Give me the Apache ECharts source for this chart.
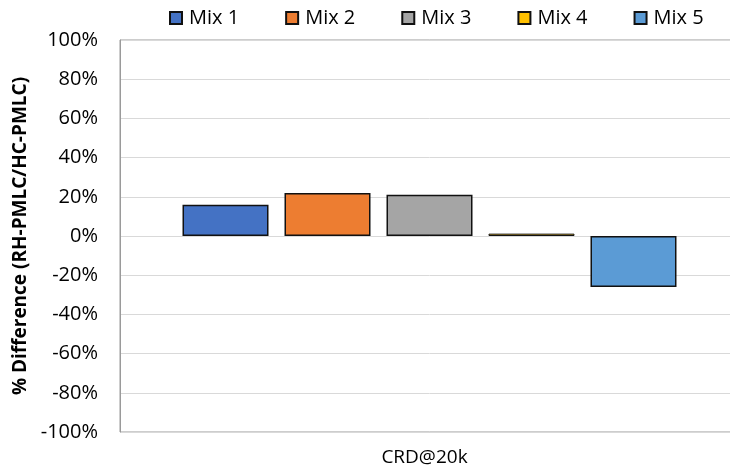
<!DOCTYPE html>
<html>
<head>
<meta charset="utf-8">
<script src="https://cdn.jsdelivr.net/npm/echarts@6/dist/echarts.min.js"></script>
<style>html,body{margin:0;padding:0;background:#fff;overflow:hidden}#c{width:739px;height:474px}</style>
</head>
<body>
<div id="c"></div>
<script>
const categories = ["CRD@20k"];
const seriesNames = ["Mix 1", "Mix 2", "Mix 3", "Mix 4", "Mix 5"];
const mix1 = [16];
const mix2 = [22];
const mix3 = [21];
const mix4 = [1.2];
const mix5 = [-26];
const seriesValues = [mix1, mix2, mix3, mix4, mix5];
const colors = ["#4472C4", "#ED7D31", "#A5A5A5", "#FFC000", "#5B9BD5"];
const yTicks = { min: -100, max: 100, interval: 20 };

const FONT = "Open Sans";
const chart = echarts.init(document.getElementById('c'), null, { renderer: 'canvas' });
chart.setOption({
  animation: false,
  textStyle: { fontFamily: FONT },
  legend: {
    top: 3,
    left: 164,
    itemWidth: 12,
    itemHeight: 12,
    itemGap: 46,
    icon: 'rect',
    textStyle: { fontFamily: FONT, fontSize: 20, color: '#000', padding: [0, 0, 0, 2] },
    data: seriesNames
  },
  grid: {
    left: 120, right: 0, top: 40, bottom: 42,
    show: true, borderColor: '#9a9a9a', borderWidth: 1
  },
  xAxis: {
    type: 'category',
    data: categories,
    axisLine: { show: false, onZero: false },
    axisTick: { show: false },
    axisLabel: { fontFamily: FONT, fontSize: 19, color: '#000', margin: 16, padding: [0, 10, 0, 0] }
  },
  yAxis: {
    type: 'value',
    min: yTicks.min, max: yTicks.max, interval: yTicks.interval,
    name: '% Difference (RH-PMLC/HC-PMLC)',
    nameLocation: 'middle',
    nameGap: 88,
    nameTextStyle: { fontFamily: FONT, fontSize: 19, fontWeight: 'bold', color: '#000' },
    axisLine: { show: true, lineStyle: { color: '#9a9a9a' } },
    axisTick: { show: false },
    splitLine: { lineStyle: { color: '#d9d9d9' } },
    axisLabel: { fontFamily: FONT, fontSize: 20, color: '#000', margin: 22, formatter: v => v + '%' }
  },
  series: seriesNames.map((n, i) => ({
    name: n,
    type: 'bar',
    data: seriesValues[i],
    barWidth: 86,
    barGap: '18.6%',
    itemStyle: { color: colors[i], borderColor: '#111', borderWidth: i === 3 ? 1 : 1.5 }
  }))
});
</script>
</body>
</html>
